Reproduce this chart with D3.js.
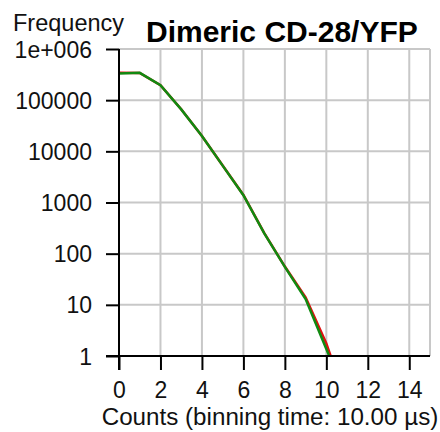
<!DOCTYPE html>
<meta charset="utf-8">
<style>
    body { margin: 0; background: #fff; }
    svg { background-color: #fff; font-family: Arial, "Liberation Sans", sans-serif; }
</style>
<body>
<svg width="440" height="432"></svg>
<script src="https://d3js.org/d3.v7.min.js"></script>
<script>
    // photon counting histogram
    var counts = [0, 1, 2, 3, 4, 5, 6, 7, 8, 9, 10, 11];
    var redFreq = [345000, 341000, 197000, 66500, 20000, 5300, 1400, 254, 56, 14, 1.75, 0.12];
    var greenFreq = [332000, 342000, 196000, 66000, 19900, 5250, 1390, 252, 55, 13, 1.37, 0.14];

    var xTicks = [0, 2, 4, 6, 8, 10, 12, 14];
    var yTicks = [1, 10, 100, 1000, 10000, 100000, 1000000];
    var yTickLabels = ["1", "10", "100", "1000", "10000", "100000", "1e+006"];

    var svg = d3.select("svg");

    var x = d3.scaleLinear().domain([0, 15]).range([119, 430]),
        y = d3.scaleLog().domain([1, 1e6]).range([356, 49]);

    svg.append("defs").append("clipPath")
        .attr("id", "clip")
        .append("rect")
        .attr("x", x(0))
        .attr("y", y(1e6))
        .attr("width", x(15) - x(0))
        .attr("height", y(1) - y(1e6));

    // grid
    var grid = svg.append("g").attr("stroke", "#c8c8c8").attr("stroke-width", 2);
    grid.selectAll(".vg")
        .data(xTicks.concat([15]))
        .enter().append("line")
        .attr("x1", function (d) { return x(d); })
        .attr("x2", function (d) { return x(d); })
        .attr("y1", y(1e6))
        .attr("y2", y(1));
    grid.selectAll(".hg")
        .data(yTicks)
        .enter().append("line")
        .attr("x1", x(0))
        .attr("x2", x(15))
        .attr("y1", function (d) { return y(d); })
        .attr("y2", function (d) { return y(d); });

    // curves, red under green
    var line = d3.line()
        .x(function (d) { return x(d[0]); })
        .y(function (d) { return y(d[1]); });

    var lines = svg.append("g").attr("clip-path", "url(#clip)");
    lines.append("path")
        .datum(d3.zip(counts, redFreq))
        .attr("fill", "none")
        .attr("stroke", "#e01010")
        .attr("stroke-width", 2.5)
        .attr("d", line);
    lines.append("path")
        .datum(d3.zip(counts, greenFreq))
        .attr("fill", "none")
        .attr("stroke", "#118a11")
        .attr("stroke-width", 2.5)
        .attr("d", line);

    // axes
    var yAxis = d3.axisLeft(y)
        .tickValues(yTicks)
        .tickSize(13)
        .tickPadding(14)
        .tickFormat(function (d, i) { return yTickLabels[i]; });
    var gy = svg.append("g")
        .attr("transform", "translate(" + x(0) + ",0)")
        .call(yAxis);

    var xAxis = d3.axisBottom(x)
        .tickValues(xTicks)
        .tickSize(14)
        .tickPadding(12)
        .tickSizeOuter(0);
    var gx = svg.append("g")
        .attr("transform", "translate(0," + y(1) + ")")
        .call(xAxis);

    gx.select(".domain").attr("d", "M" + (x(0) - 13) + ",0H" + x(15));
    gy.select(".domain").attr("d", "M0," + y(1e6) + "V" + (y(1) + 14));

    [gx, gy].forEach(function (g) {
        g.selectAll(".domain, .tick line").attr("stroke", "#000").attr("stroke-width", 2);
        g.selectAll("text")
            .attr("fill", "#111")
            .style("font-size", "23px")
            .style("font-family", "Arial, 'Liberation Sans', sans-serif");
    });
    gy.selectAll("text").attr("dy", "0.35em");

    // labels
    svg.append("text")
        .attr("x", 13)
        .attr("y", 31)
        .style("font-size", "23.5px")
        .attr("fill", "#111")
        .text("Frequency");

    svg.append("text")
        .attr("x", 146)
        .attr("y", 42)
        .style("font-size", "30px")
        .style("font-weight", "bold")
        .attr("fill", "#000")
        .text("Dimeric CD-28/YFP");

    svg.append("text")
        .attr("x", 270)
        .attr("y", 425)
        .style("text-anchor", "middle")
        .style("font-size", "24.2px")
        .attr("fill", "#111")
        .text("Counts (binning time: 10.00 µs)");
</script>
</body>
